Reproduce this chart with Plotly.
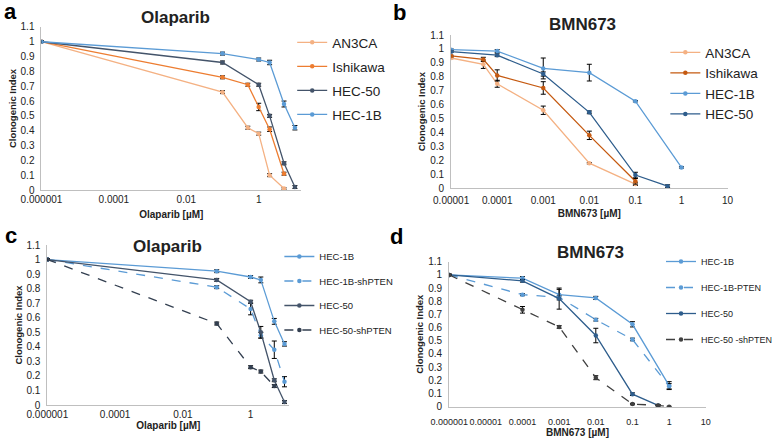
import plotly.graph_objects as go

# ---- panel a: Olaparib ----
a_names = ['AN3CA', 'Ishikawa', 'HEC-50', 'HEC-1B']
a_x = [
    [1e-6, 0.1, 0.5, 1, 2, 5],
    [1e-6, 0.1, 0.5, 1, 2, 5],
    [1e-6, 0.1, 1, 2, 5, 10],
    [1e-6, 0.1, 1, 2, 5, 10],
]
a_y = [
    [1.0, 0.66, 0.42, 0.38, 0.10, 0.01],
    [1.0, 0.76, 0.71, 0.56, 0.41, 0.11],
    [1.0, 0.86, 0.71, 0.50, 0.18, 0.02],
    [1.0, 0.92, 0.88, 0.86, 0.58, 0.42],
]
a_err = [
    [0.005, 0.01, 0.01, 0.01, 0.01, 0.005],
    [0.005, 0.01, 0.01, 0.025, 0.015, 0.01],
    [0.005, 0.01, 0.01, 0.01, 0.01, 0.01],
    [0.005, 0.01, 0.01, 0.015, 0.02, 0.015],
]
a_colors = ['#F4B183', '#ED7D31', '#44546A', '#5B9BD5']

# ---- panel b: BMN673 ----
b_names = ['AN3CA', 'Ishikawa', 'HEC-1B', 'HEC-50']
b_x = [
    [1e-5, 5e-5, 1e-4, 1e-3, 0.01, 0.1],
    [1e-5, 5e-5, 1e-4, 1e-3, 0.01, 0.1],
    [1e-5, 1e-4, 1e-3, 0.01, 0.1, 1],
    [1e-5, 1e-4, 1e-3, 0.01, 0.1, 0.5],
]
b_y = [
    [0.935, 0.89, 0.75, 0.56, 0.18, 0.03],
    [0.95, 0.925, 0.81, 0.72, 0.38, 0.05],
    [0.995, 0.985, 0.86, 0.83, 0.625, 0.15],
    [0.98, 0.955, 0.82, 0.545, 0.095, 0.015],
]
b_err = [
    [0.005, 0.03, 0.025, 0.03, 0.005, 0.01],
    [0.005, 0.015, 0.04, 0.045, 0.03, 0.02],
    [0.005, 0.01, 0.075, 0.06, 0.005, 0.005],
    [0.005, 0.01, 0.015, 0.01, 0.02, 0.01],
]
b_colors = ['#F4B183', '#C55A11', '#5B9BD5', '#2E5D8C']

# ---- panel c: Olaparib, shPTEN ----
c_names = ['HEC-1B', 'HEC-1B-shPTEN', 'HEC-50', 'HEC-50-shPTEN']
c_x = [
    [1e-6, 0.1, 1, 2, 5, 10],
    [1e-6, 0.1, 1, 2, 5, 10],
    [1e-6, 0.1, 1, 2, 5, 10],
    [1e-6, 0.1, 1, 2, 5],
]
c_y = [
    [1.0, 0.92, 0.88, 0.86, 0.575, 0.42],
    [1.0, 0.81, 0.66, 0.48, 0.38, 0.16],
    [1.0, 0.86, 0.71, 0.50, 0.17, 0.02],
    [1.0, 0.56, 0.26, 0.23, 0.13],
]
c_err = [
    [0.005, 0.01, 0.01, 0.02, 0.02, 0.015],
    [0.005, 0.01, 0.04, 0.02, 0.06, 0.035],
    [0.005, 0.01, 0.01, 0.04, 0.01, 0.01],
    [0.005, 0.01, 0.01, 0.01, 0.01],
]
c_colors = ['#5B9BD5', '#5B9BD5', '#44546A', '#333F50']
c_dash = ['solid', 'dash', 'solid', 'dash']

# ---- panel d: BMN673, shPTEN ----
d_names = ['HEC-1B', 'HEC-1B-PTEN', 'HEC-50', 'HEC-50 -shPTEN']
d_x = [
    [1e-6, 1e-4, 1e-3, 0.01, 0.1, 1],
    [1e-6, 1e-4, 1e-3, 0.01, 0.1, 1],
    [1e-6, 1e-4, 1e-3, 0.01, 0.1, 0.5],
    [1e-6, 1e-4, 1e-3, 0.01, 0.1, 0.5, 1],
]
d_y = [
    [1.0, 0.975, 0.85, 0.825, 0.625, 0.16],
    [1.0, 0.85, 0.83, 0.66, 0.51, 0.155],
    [1.0, 0.955, 0.82, 0.54, 0.095, 0.01],
    [1.0, 0.735, 0.605, 0.22, 0.02, 0.01, 0.0],
]
d_err = [
    [0.005, 0.012, 0.04, 0.012, 0.02, 0.03],
    [0.005, 0.008, 0.01, 0.01, 0.01, 0.02],
    [0.005, 0.01, 0.08, 0.055, 0.01, 0.005],
    [0.005, 0.025, 0.01, 0.015, 0.005, 0.005, 0.003],
]
d_colors = ['#5B9BD5', '#5B9BD5', '#2E5D8C', '#404040']
d_dash = ['solid', 'dash', 'solid', 'dash']

y_ticks = [0, 0.1, 0.2, 0.3, 0.4, 0.5, 0.6, 0.7, 0.8, 0.9, 1, 1.1]
y_labels = ['0', '0.1', '0.2', '0.3', '0.4', '0.5', '0.6', '0.7', '0.8', '0.9', '1', '1.1']

FONT = 'Liberation Sans'
W, H = 778, 440

fig = go.Figure()


def add_panel(names, xs, ys, errs, colors, dashes, ax, legend, lw=1.3):
    for i, n in enumerate(names):
        fig.add_trace(go.Scatter(
            x=xs[i], y=ys[i], name=n, mode='lines+markers',
            line=dict(color=colors[i], width=lw, dash=dashes[i]),
            marker=dict(size=4.5, color=colors[i], symbol='circle'),
            error_y=dict(type='data', array=errs[i], color='black',
                         thickness=1, width=2.5),
            xaxis='x' + ax, yaxis='y' + ax,
            legend=legend, legendgroup=legend + str(i),
        ))


add_panel(a_names, a_x, a_y, a_err, a_colors, ['solid'] * 4, '', 'legend')
add_panel(b_names, b_x, b_y, b_err, b_colors, ['solid'] * 4, '2', 'legend2')
add_panel(c_names, c_x, c_y, c_err, c_colors, c_dash, '3', 'legend3')
add_panel(d_names, d_x, d_y, d_err, d_colors, d_dash, '4', 'legend4')


# positions are in window pixels (page margin removed below)
def px_x(p):
    return p / W


def px_y(p):
    return 1 - p / H


def xax(domain, rng, vals, texts, title, anchor, fs=10, lab_off=0, standoff=6):
    return dict(
        domain=domain, type='log', range=rng, anchor=anchor, automargin=False,
        tickvals=vals, ticktext=texts, ticks='', showgrid=False, tickangle=0,
        ticklabelstandoff=lab_off,
        zeroline=False, showline=True, linecolor='#BFBFBF', linewidth=1,
        tickfont=dict(size=fs, color='#222', family=FONT),
        title=dict(text=title, font=dict(size=10, color='#222', family=FONT), standoff=standoff),
    )


def yax(domain, anchor):
    return dict(
        domain=domain, range=[0, 1.1], anchor=anchor, automargin=False,
        tickvals=y_ticks, ticktext=y_labels, ticks='', showgrid=False,
        ticklabelstandoff=4,
        zeroline=False, showline=True, linecolor='#BFBFBF', linewidth=1,
        tickfont=dict(size=10, color='#222', family=FONT),
        title=dict(text='<b>Clonogenic Index</b>', font=dict(size=9.5, color='#222', family=FONT), standoff=2),
    )


olap_vals = [1e-6, 1e-4, 1e-2, 1]
olap_text = ['0.000001', '0.0001', '0.01', '1']
bmn_b_vals = [1e-5, 1e-4, 1e-3, 1e-2, 0.1, 1, 10]
bmn_b_text = ['0.00001', '0.0001', '0.001', '0.01', '0.1', '1', '10']
bmn_d_vals = [1e-6] + bmn_b_vals
bmn_d_text = ['0.000001'] + bmn_b_text

fig.update_layout(
    xaxis=xax([px_x(42), px_x(305)], [-6, 1.17], olap_vals, olap_text, '<b>Olaparib [µM]</b>', 'y'),
    yaxis=yax([px_y(190), px_y(26.9)], 'x'),
    xaxis2=xax([px_x(457), px_x(737)], [-5, 1], bmn_b_vals, bmn_b_text, '<b>BMN673 [µM]</b>', 'y2',
               lab_off=3, standoff=4),
    yaxis2=yax([px_y(188.3), px_y(35)], 'x2'),
    xaxis3=xax([px_x(48), px_x(293)], [-6, 1.14], olap_vals, olap_text, '<b>Olaparib [µM]</b>', 'y3',
               standoff=0),
    yaxis3=yax([px_y(405), px_y(245)], 'x3'),
    xaxis4=xax([px_x(455), px_x(715)], [-6, 1], bmn_d_vals, bmn_d_text, '<b>BMN673 [µM]</b>', 'y4',
               fs=9, lab_off=6, standoff=3),
    yaxis4=yax([px_y(406.7), px_y(261.7)], 'x4'),
)

# legends must stay inside the page or plotly pushes the margins
leg_common = dict(bgcolor='rgba(0,0,0,0)', xanchor='left', yanchor='top',
                  itemwidth=30, traceorder='grouped')
fig.update_layout(
    legend=dict(x=px_x(296), y=px_y(27), font=dict(size=13.5, color='#222', family=FONT),
                tracegroupgap=3.5, **leg_common),
    legend2=dict(x=px_x(674), y=px_y(37), font=dict(size=13.5, color='#222', family=FONT),
                 tracegroupgap=0, **leg_common),
    legend3=dict(x=px_x(283), y=px_y(242), font=dict(size=9.5, color='#222', family=FONT),
                 tracegroupgap=5.5, **leg_common),
    legend4=dict(x=px_x(670), y=px_y(247), font=dict(size=9, color='#222', family=FONT),
                 tracegroupgap=7, **leg_common),
)

titles = [
    ('<b>Olaparib</b>', 178, 18), ('<b>BMN673</b>', 590, 25),
    ('<b>Olaparib</b>', 170, 246), ('<b>BMN673</b>', 598, 253),
]
for t, x, y in titles:
    fig.add_annotation(text=t, x=px_x(x), y=px_y(y), xref='paper', yref='paper',
                       xanchor='center', yanchor='middle',
                       showarrow=False, font=dict(size=17, color='#222', family=FONT))

letters = [('a', 11, 12), ('b', 405, 13), ('c', 11, 235), ('d', 402, 236)]
for t, x, y in letters:
    fig.add_annotation(text='<b>' + t + '</b>', x=px_x(x), y=px_y(y), xref='paper', yref='paper',
                       xanchor='center', yanchor='middle',
                       showarrow=False, font=dict(size=22, color='black', family=FONT))

fig.update_layout(
    width=W, height=H, margin=dict(l=0, r=0, t=0, b=0),
    paper_bgcolor='white', plot_bgcolor='white', showlegend=True,
)

fig.write_html("out.html", config={'displayModeBar': False},
               post_script="document.body.style.margin = '0px';")
